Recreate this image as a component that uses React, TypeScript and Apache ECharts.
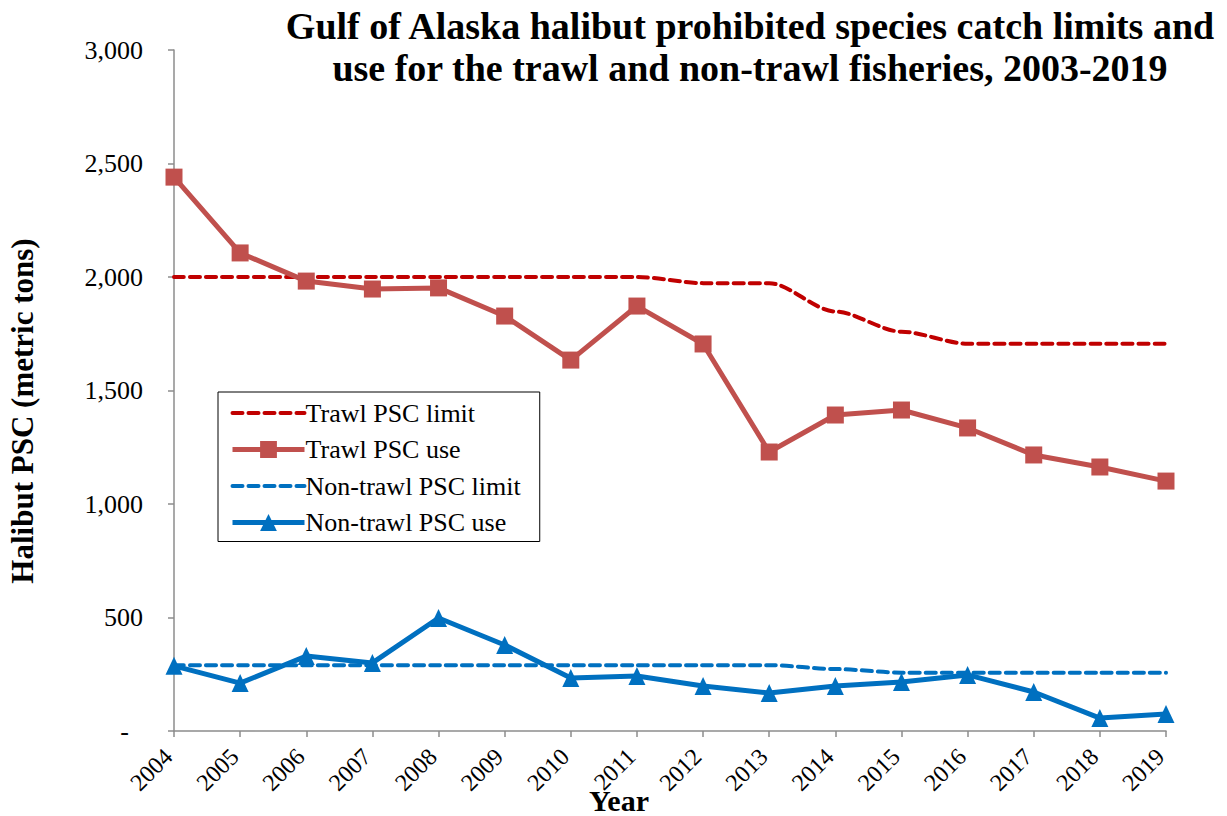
import React, { useEffect, useRef } from "react";
import * as echarts from "echarts";

const years = ["2004","2005","2006","2007","2008","2009","2010","2011","2012","2013","2014","2015","2016","2017","2018","2019"];
const trawlLimit = [2000,2000,2000,2000,2000,2000,2000,2000,1973,1973,1848,1759,1706,1706,1706,1706];
const trawlUse = [2440,2106,1982,1947,1952,1828,1634,1872,1705,1229,1392,1414,1335,1216,1163,1101];
const nonTrawlLimit = [290,290,290,290,290,290,290,290,290,290,273,257,257,257,257,257];
const nonTrawlUse = [287,211,330,300,498,379,233,242,198,167,198,216,247,172,57,75];
const titleLines = ["Gulf of Alaska halibut prohibited species catch limits and", "use for the trawl and non-trawl fisheries, 2003-2019"];
const yAxisTitle = "Halibut PSC (metric tons)";
const xAxisTitle = "Year";

const FONT = '"Times New Roman", "Liberation Serif", serif';

export default function App() {
  const ref = useRef<HTMLDivElement>(null);
  useEffect(() => {
    if (!ref.current) return;
    const chart = echarts.init(ref.current, null, { renderer: "svg" });
    const axisColor = "#8c8c8c";
    const hidden = { color: "rgba(0,0,0,0)", borderWidth: 0 };
    chart.setOption({
      animation: false,
      backgroundColor: "#ffffff",
      textStyle: { fontFamily: FONT },
      graphic: [
        {
          type: "text",
          x: 750,
          y: 5,
          style: {
            text: titleLines.join("\n"),
            textAlign: "center",
            textVerticalAlign: "top",
            font: `bold 38px ${FONT}`,
            lineHeight: 42,
            fill: "#000",
          },
        },
        {
          type: "text",
          x: 22,
          y: 411,
          rotation: Math.PI / 2,
          style: {
            text: yAxisTitle,
            textAlign: "center",
            textVerticalAlign: "middle",
            font: `bold 31px ${FONT}`,
            fill: "#000",
          },
        },
        {
          type: "text",
          x: 619,
          y: 800,
          z: 10,
          style: {
            text: xAxisTitle,
            textAlign: "center",
            textVerticalAlign: "middle",
            font: `bold 30px ${FONT}`,
            fill: "#000",
          },
        },
      ],
      legend: {
        orient: "vertical",
        left: 218,
        top: 392,
        padding: [8, 19, 6, 12],
        itemWidth: 72,
        itemHeight: 21,
        itemGap: 10.5,
        borderColor: "#000",
        borderWidth: 1,
        backgroundColor: "#fff",
        textStyle: { fontFamily: FONT, fontSize: 26, color: "#000", lineHeight: 26, padding: [0, 0, 0, -4] },
        data: [
          { name: "Trawl PSC limit", itemStyle: hidden, lineStyle: { width: 4, type: [10, 6], cap: "round", color: "#C00000" } },
          { name: "Trawl PSC use", lineStyle: { width: 5, color: "#C0504D" } },
          { name: "Non-trawl PSC limit", itemStyle: hidden, lineStyle: { width: 4, type: [10, 6], cap: "round", color: "#0070C0" } },
          { name: "Non-trawl PSC use", lineStyle: { width: 5, color: "#0070C0" } },
        ],
      },
      grid: { left: 174, right: 61, top: 50, bottom: 85, outerBoundsMode: "none", containLabel: false },
      xAxis: {
        type: "category",
        data: years,
        boundaryGap: false,
        axisLine: { lineStyle: { color: axisColor, width: 1.5 } },
        axisTick: { alignWithLabel: true, length: 6, lineStyle: { color: axisColor, width: 1.5 } },
        axisLabel: {
          rotate: 45,
          fontFamily: FONT,
          fontSize: 24,
          color: "#000",
          margin: 16,
          padding: [0, 8, 0, 0],
          interval: 0,
          hideOverlap: false,
        },
        splitLine: { show: false },
      },
      yAxis: {
        type: "value",
        min: 0,
        max: 3000,
        interval: 500,
        axisLine: { show: true, lineStyle: { color: axisColor, width: 1.5 } },
        axisTick: { show: true, length: 6, lineStyle: { color: axisColor, width: 1.5 } },
        axisLabel: {
          fontFamily: FONT,
          fontSize: 26,
          color: "#000",
          margin: 31,
          formatter: (v: number) => (v === 0 ? "{d|-}" : v.toLocaleString("en-US")),
          rich: { d: { fontFamily: FONT, fontSize: 26, color: "#000", padding: [0, 14, 0, 0] } },
        },
        splitLine: { show: false },
      },
      series: [
        {
          name: "Trawl PSC limit",
          type: "line",
          data: trawlLimit,
          smooth: 0.3,
          smoothMonotone: "x",
          symbol: "none",
          lineStyle: { color: "#C00000", width: 4, type: [10, 6], cap: "round" },
          itemStyle: { color: "#C00000" },
          z: 2,
        },
        {
          name: "Trawl PSC use",
          type: "line",
          data: trawlUse,
          symbol: "rect",
          symbolSize: 17,
          lineStyle: { color: "#C0504D", width: 5 },
          itemStyle: { color: "#C0504D" },
          z: 3,
        },
        {
          name: "Non-trawl PSC limit",
          type: "line",
          data: nonTrawlLimit,
          smooth: 0.3,
          smoothMonotone: "x",
          symbol: "none",
          lineStyle: { color: "#0070C0", width: 4, type: [10, 6], cap: "round" },
          itemStyle: { color: "#0070C0" },
          z: 2,
        },
        {
          name: "Non-trawl PSC use",
          type: "line",
          data: nonTrawlUse,
          symbol: "triangle",
          symbolSize: [17, 18],
          lineStyle: { color: "#0070C0", width: 5 },
          itemStyle: { color: "#0070C0" },
          z: 3,
        },
      ],
    });
    return () => chart.dispose();
  }, []);
  return <div ref={ref} style={{ position: "fixed", left: 0, top: 0, width: 1227, height: 816 }} />;
}
